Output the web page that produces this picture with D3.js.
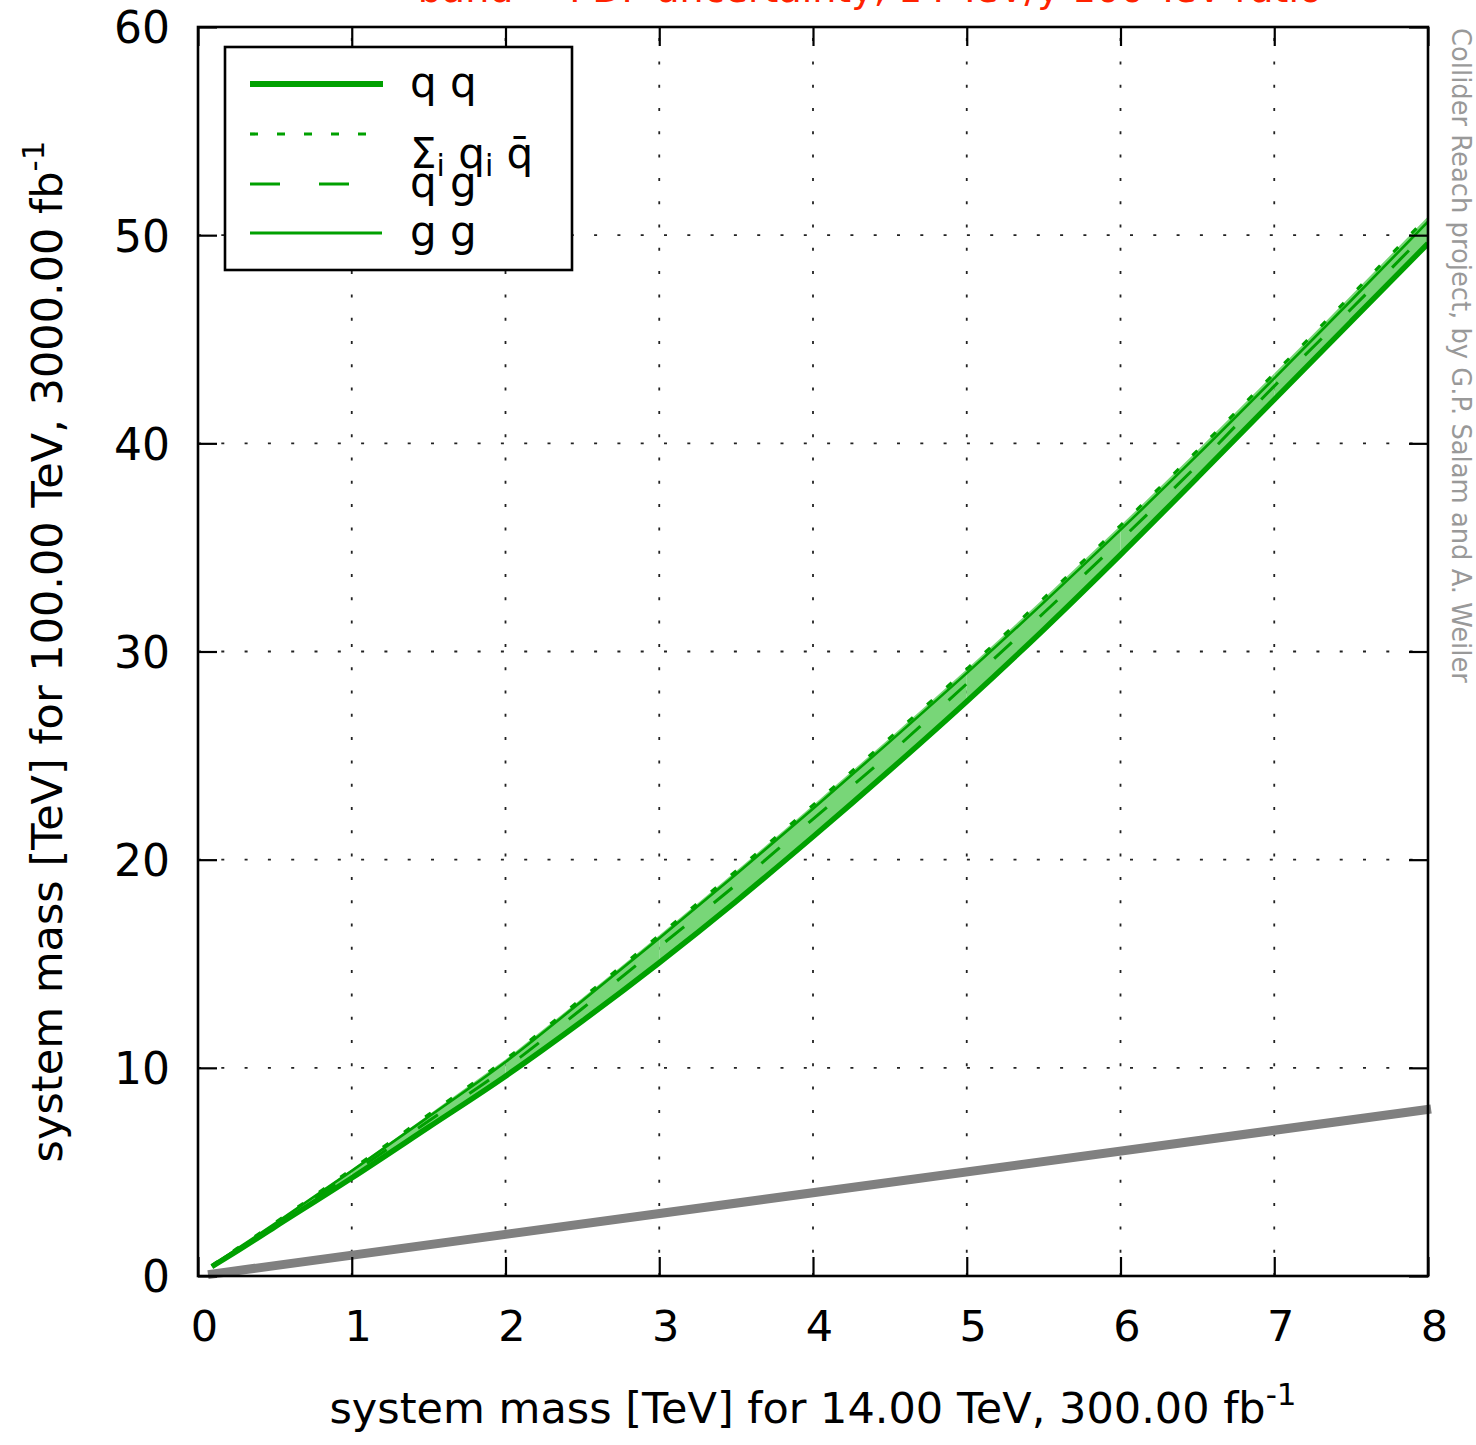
<!DOCTYPE html>
<html>
<head>
<meta charset="utf-8">
<script src="https://cdn.jsdelivr.net/npm/d3@7"></script>
<style>
  html, body { margin: 0; padding: 0; background: #fff; }
  svg { display: block; font-family: "DejaVu Sans", sans-serif; }
</style>
</head>
<body>
<svg id="chart" width="1476" height="1445"></svg>
<script>
// Mass reach at 100 TeV (y) versus 14 TeV (x), per partonic channel
const massX = [0.09, 0.25, 0.5, 1, 1.5, 2, 2.5, 3, 3.5, 4, 4.5, 5, 5.5, 6, 6.5, 7, 7.5, 8];
const reachQQbar = [0.50, 1.30, 2.55, 5.12, 7.75, 10.40, 13.35, 16.37, 19.46, 22.62, 25.85, 29.15, 32.55, 36.05, 39.65, 43.35, 47.10, 50.90];
const reachGG    = [0.49, 1.28, 2.52, 5.05, 7.65, 10.28, 13.22, 16.22, 19.30, 22.45, 25.67, 28.96, 32.35, 35.84, 39.43, 43.12, 46.86, 50.65];
const reachQG    = [0.48, 1.25, 2.46, 4.92, 7.45, 9.98, 12.85, 15.82, 18.80, 21.95, 25.10, 28.45, 31.85, 35.35, 38.95, 42.75, 46.45, 50.20];
const reachQQ    = [0.45, 1.18, 2.36, 4.71, 7.15, 9.60, 12.25, 15.05, 18.00, 21.10, 24.30, 27.60, 31.05, 34.65, 38.35, 42.10, 45.85, 49.60];
// reference diagonal y = x
const diagX = [0.065, 8.02];
const diagY = [0.065, 8.02];

const xTicks = [0, 1, 2, 3, 4, 5, 6, 7, 8];
const yTicks = [0, 10, 20, 30, 40, 50, 60];

const legendLabels = ["q q", "\u03A3i qi q\u0304", "q g", "g g"];

const svg = d3.select("#chart");
const plot = { left: 198, right: 1428, top: 27, bottom: 1276 };

const x = d3.scaleLinear().domain([0, 8]).range([plot.left, plot.right]);
const y = d3.scaleLinear().domain([0, 60]).range([plot.bottom, plot.top]);

const GREEN = "#00a000";
const FILL = "#78d678";

// clip
svg.append("defs").append("clipPath").attr("id", "clip")
  .append("rect").attr("x", plot.left).attr("y", plot.top)
  .attr("width", plot.right - plot.left).attr("height", plot.bottom - plot.top);

// grid
const grid = svg.append("g").attr("stroke", "#222").attr("stroke-width", 1.8)
  .attr("stroke-dasharray", "3,20.3");
xTicks.filter(t => t > 0 && t < 8).forEach(t => {
  grid.append("line").attr("x1", x(t)).attr("x2", x(t))
    .attr("y1", plot.bottom).attr("y2", plot.top);
});
yTicks.filter(t => t > 0 && t < 60).forEach(t => {
  grid.append("line").attr("x1", plot.left).attr("x2", plot.right)
    .attr("y1", y(t)).attr("y2", y(t));
});

const data = massX.map((m, i) => ({
  m, qqbar: reachQQbar[i], gg: reachGG[i], qg: reachQG[i], qq: reachQQ[i]
}));

const curve = d3.curveMonotoneX;
const g = svg.append("g").attr("clip-path", "url(#clip)");

// uncertainty band, drawn in unit-wide pieces
const area = d3.area().curve(curve)
  .x(d => x(d.m)).y0(d => y(d.qq)).y1(d => y(d.qqbar));
for (let k = 0; k < 8; k++) {
  const piece = data.filter(d => d.m >= k - 1e-9 && d.m <= k + 1 + 1e-9);
  if (piece.length < 2) continue;
  g.append("path").datum(piece).attr("d", area).attr("fill", FILL);
}

const line = key => d3.line().curve(curve).x(d => x(d.m)).y(d => y(d[key]));

g.append("path").datum(data).attr("d", line("gg"))
  .attr("fill", "none").attr("stroke", GREEN).attr("stroke-width", 2.6);
g.append("path").datum(data).attr("d", line("qg"))
  .attr("fill", "none").attr("stroke", GREEN).attr("stroke-width", 3)
  .attr("stroke-dasharray", "24,38");
g.append("path").datum(data).attr("d", line("qqbar"))
  .attr("fill", "none").attr("stroke", GREEN).attr("stroke-width", 3.2)
  .attr("stroke-dasharray", "7,19");
g.append("path").datum(data).attr("d", line("qq"))
  .attr("fill", "none").attr("stroke", GREEN).attr("stroke-width", 5.5);

// diagonal reference
svg.append("path").datum(diagX.map((v, i) => [v, diagY[i]]))
  .attr("d", d3.line().x(d => x(d[0])).y(d => y(d[1])))
  .attr("fill", "none").attr("stroke", "#808080").attr("stroke-width", 9);

// axes with inward ticks
const TICK = 19;
const axB = svg.append("g").attr("transform", `translate(0,${plot.bottom})`)
  .call(d3.axisBottom(x).tickValues(xTicks).tickSizeInner(-TICK).tickSizeOuter(0).tickPadding(0).tickFormat(d3.format("d")));
const axT = svg.append("g").attr("transform", `translate(0,${plot.top})`)
  .call(d3.axisTop(x).tickValues(xTicks).tickSizeInner(-TICK).tickSizeOuter(0).tickFormat(""));
const axL = svg.append("g").attr("transform", `translate(${plot.left},0)`)
  .call(d3.axisLeft(y).tickValues(yTicks).tickSizeInner(-TICK).tickSizeOuter(0).tickPadding(0).tickFormat(d3.format("d")));
const axR = svg.append("g").attr("transform", `translate(${plot.right},0)`)
  .call(d3.axisRight(y).tickValues(yTicks).tickSizeInner(-TICK).tickSizeOuter(0).tickFormat(""));
[axB, axT, axL, axR].forEach(a => {
  a.select(".domain").remove();
  a.selectAll(".tick line").attr("stroke", "#000").attr("stroke-width", 2.2);
  a.attr("font-family", null).attr("font-size", null);
});
axB.selectAll(".tick text").attr("fill", "#000").attr("font-size", 43)
  .attr("dy", null).attr("y", 65).attr("x", 6);
axL.selectAll(".tick text").attr("fill", "#000").attr("font-size", 44)
  .attr("dy", "0.36em").attr("x", -28);

// frame
svg.append("rect").attr("x", plot.left).attr("y", plot.top)
  .attr("width", plot.right - plot.left).attr("height", plot.bottom - plot.top)
  .attr("fill", "none").attr("stroke", "#000").attr("stroke-width", 2.6);

// axis titles
const xt = svg.append("text").attr("x", (plot.left + plot.right) / 2).attr("y", 1423)
  .attr("text-anchor", "middle").attr("font-size", 43).attr("fill", "#000");
xt.append("tspan").text("system mass [TeV] for 14.00 TeV, 300.00 fb");
xt.append("tspan").attr("font-size", 31).attr("dy", -18).text("-1");

const yt = svg.append("text")
  .attr("transform", `translate(62,${(plot.top + plot.bottom) / 2}) rotate(-90)`)
  .attr("text-anchor", "middle").attr("font-size", 43).attr("fill", "#000");
yt.append("tspan").text("system mass [TeV] for 100.00 TeV, 3000.00 fb");
yt.append("tspan").attr("font-size", 31).attr("dy", -18).text("-1");

// title (sits at the top edge)
svg.append("text").attr("x", 870).attr("y", 2).attr("text-anchor", "middle")
  .attr("font-size", 38).attr("fill", "#ff2200")
  .text("band = PDF uncertainty, 14 TeV/y 100 TeV ratio");

// credit
svg.append("text").attr("transform", "translate(1452,28) rotate(90)")
  .attr("font-size", 25.8).attr("fill", "#999")
  .text("Collider Reach project, by G.P. Salam and A. Weiler");

// legend
const leg = svg.append("g");
leg.append("rect").attr("x", 225).attr("y", 47).attr("width", 347).attr("height", 223)
  .attr("fill", "#fff").attr("stroke", "#000").attr("stroke-width", 2.6);
const rowY = [84, 134, 184, 233];
const styles = [
  { w: 6, dash: null, x2: 383 },
  { w: 3.2, dash: "8,19", x2: 383 },
  { w: 3, dash: "30,39", x2: 383 },
  { w: 3.2, dash: null, x2: 382 }
];
styles.forEach((s, i) => {
  const l = leg.append("line").attr("x1", 250).attr("x2", s.x2)
    .attr("y1", rowY[i]).attr("y2", rowY[i])
    .attr("stroke", GREEN).attr("stroke-width", s.w);
  if (s.dash) l.attr("stroke-dasharray", s.dash);
});
const lab = (i, yy) => leg.append("text").attr("x", 410).attr("y", yy)
  .attr("font-size", 42).attr("fill", "#000");
lab(0, 97).text(legendLabels[0]);
lab(2, 197).text(legendLabels[2]);
lab(3, 246).text(legendLabels[3]);
// sum over quark–antiquark channels, with subscripts
const s = lab(1, 168);
s.append("tspan").text("\u03A3");
s.append("tspan").attr("font-size", 30).attr("dy", 8).text("i");
s.append("tspan").attr("dy", -8).text(" q");
s.append("tspan").attr("font-size", 30).attr("dy", 8).text("i");
s.append("tspan").attr("dy", -8).text(" q\u0304");
</script>
</body>
</html>
